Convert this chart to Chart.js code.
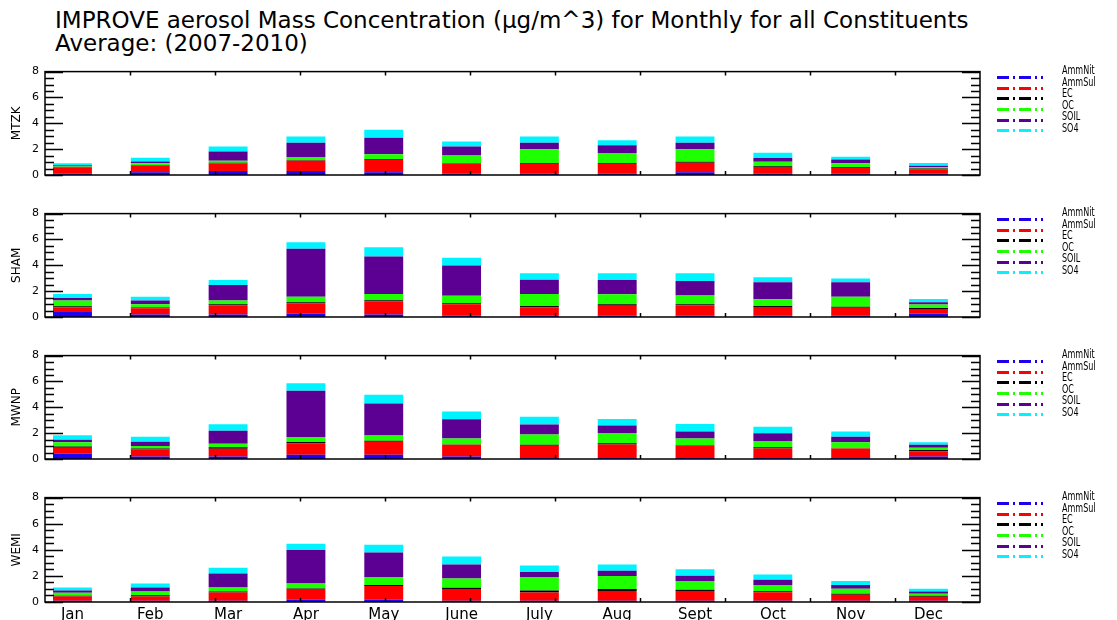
<!DOCTYPE html>
<html><head><meta charset="utf-8">
<script src="https://cdn.jsdelivr.net/npm/chart.js@4.4.1/dist/chart.umd.min.js"></script>
<style>
html,body{margin:0;padding:0;background:#fff;width:1117px;height:620px;overflow:hidden;}
#title{position:absolute;left:55px;top:9px;font-family:"DejaVu Sans";font-weight:normal;font-size:23px;line-height:23px;color:#000;white-space:pre;}
canvas{position:absolute;left:0;}
</style></head><body>
<div id="title">IMPROVE aerosol Mass Concentration (μg/m^3) for Monthly for all Constituents
Average: (2007-2010)</div>
<canvas id="p0" width="1117" height="142" style="top:59px"></canvas>
<canvas id="p1" width="1117" height="142" style="top:201px"></canvas>
<canvas id="p2" width="1117" height="142" style="top:343px"></canvas>
<canvas id="p3" width="1117" height="135" style="top:485px"></canvas>
<script>
// ---- data ----
const months = ["Jan","Feb","Mar","Apr","May","June","July","Aug","Sept","Oct","Nov","Dec"];
const constituents = ["AmmNit","AmmSul","EC","OC","SOIL","SO4"];
const sites = ["MTZK","SHAM","MWNP","WEMI"];

const MTZK_AmmNit = [0.12,0.22,0.30,0.30,0.22,0.10,0.10,0.10,0.22,0.10,0.10,0.10];
const MTZK_AmmSul = [0.43,0.50,0.60,0.80,0.95,0.80,0.75,0.75,0.72,0.52,0.45,0.32];
const MTZK_EC     = [0.03,0.03,0.04,0.04,0.05,0.02,0.05,0.05,0.08,0.05,0.05,0.08];
const MTZK_OC     = [0.07,0.15,0.16,0.26,0.38,0.58,1.10,0.80,0.98,0.35,0.30,0.10];
const MTZK_SOIL   = [0.10,0.15,0.72,1.10,1.28,0.70,0.50,0.60,0.50,0.30,0.30,0.12];
const MTZK_SO4    = [0.15,0.28,0.38,0.48,0.62,0.40,0.48,0.38,0.48,0.40,0.22,0.20];

const SHAM_AmmNit = [0.38,0.20,0.20,0.28,0.20,0.10,0.10,0.10,0.10,0.10,0.10,0.28];
const SHAM_AmmSul = [0.38,0.48,0.70,0.78,1.01,0.89,0.66,0.78,0.81,0.68,0.61,0.33];
const SHAM_EC     = [0.08,0.05,0.08,0.08,0.08,0.08,0.10,0.10,0.08,0.08,0.08,0.08];
const SHAM_OC     = [0.43,0.25,0.30,0.43,0.48,0.58,0.91,0.78,0.68,0.51,0.78,0.28];
const SHAM_SOIL   = [0.20,0.30,1.19,3.72,2.91,2.33,1.11,1.11,1.11,1.32,1.11,0.18];
const SHAM_SO4    = [0.30,0.28,0.40,0.50,0.71,0.61,0.51,0.51,0.61,0.38,0.30,0.25];

const MWNP_AmmNit = [0.40,0.20,0.20,0.33,0.33,0.20,0.08,0.08,0.08,0.08,0.08,0.20];
const MWNP_AmmSul = [0.48,0.53,0.60,0.88,1.00,0.90,0.95,1.05,0.93,0.73,0.73,0.40];
const MWNP_EC     = [0.08,0.08,0.10,0.10,0.08,0.03,0.08,0.08,0.03,0.10,0.03,0.10];
const MWNP_OC     = [0.33,0.20,0.28,0.40,0.40,0.45,0.78,0.80,0.55,0.48,0.45,0.18];
const MWNP_SOIL   = [0.20,0.33,1.00,3.58,2.48,1.50,0.78,0.58,0.53,0.60,0.43,0.22];
const MWNP_SO4    = [0.35,0.38,0.50,0.58,0.68,0.60,0.60,0.50,0.58,0.50,0.40,0.20];

const WEMI_AmmNit = [0.10,0.10,0.10,0.20,0.20,0.10,0.10,0.10,0.10,0.10,0.10,0.10];
const WEMI_AmmSul = [0.33,0.33,0.63,0.80,1.03,0.90,0.63,0.75,0.75,0.65,0.45,0.30];
const WEMI_EC     = [0.05,0.08,0.08,0.03,0.08,0.10,0.15,0.15,0.08,0.08,0.08,0.08];
const WEMI_OC     = [0.23,0.30,0.30,0.38,0.60,0.70,1.03,1.00,0.68,0.48,0.38,0.15];
const WEMI_SOIL   = [0.18,0.30,1.08,2.58,1.88,1.08,0.38,0.40,0.40,0.40,0.30,0.18];
const WEMI_SO4    = [0.22,0.30,0.43,0.48,0.60,0.60,0.50,0.48,0.50,0.40,0.30,0.20];

const siteSeries = [
  [MTZK_AmmNit, MTZK_AmmSul, MTZK_EC, MTZK_OC, MTZK_SOIL, MTZK_SO4],
  [SHAM_AmmNit, SHAM_AmmSul, SHAM_EC, SHAM_OC, SHAM_SOIL, SHAM_SO4],
  [MWNP_AmmNit, MWNP_AmmSul, MWNP_EC, MWNP_OC, MWNP_SOIL, MWNP_SO4],
  [WEMI_AmmNit, WEMI_AmmSul, WEMI_EC, WEMI_OC, WEMI_SOIL, WEMI_SO4]
];
const yTickValues = [0,2,4,6,8];

// ---- style ----
const colors = ["#1e00f0","#ff0000","#000000","#1eff00","#5c0094","#00f4ff"];
const Y_MIN = 0, Y_MAX = 8, Y_MAJOR = 2, Y_MINOR = 0.5;
const X_MIN = -0.353, X_MAX = 11.662, X_DIVISIONS = 11;

Chart.defaults.color = '#000';
Chart.defaults.font.family = '"DejaVu Sans", sans-serif';

const idlFrame = {
  id: 'idlFrame',
  afterDatasetsDraw(chart) {
    const {ctx, chartArea: a, scales: {x, y}} = chart;
    ctx.save();
    ctx.strokeStyle = '#000';
    ctx.lineWidth = 1.5;
    ctx.strokeRect(a.left, a.top, a.right - a.left, a.bottom - a.top);
    ctx.beginPath();
    for (let v = Y_MIN; v <= Y_MAX + 1e-9; v += Y_MINOR) {
      const py = Math.round(y.getPixelForValue(v)) + 0.5;
      const r = v / Y_MAJOR;
      const len = Math.abs(r - Math.round(r)) < 1e-6 ? 18 : 9;
      ctx.moveTo(a.left, py); ctx.lineTo(a.left + len, py);
      ctx.moveTo(a.right, py); ctx.lineTo(a.right - len, py);
    }
    for (let k = 1; k < X_DIVISIONS; k++) {
      const v = X_MIN + (X_MAX - X_MIN) * k / X_DIVISIONS;
      const px = Math.round(x.getPixelForValue(v)) + 0.5;
      ctx.moveTo(px, a.top); ctx.lineTo(px, a.top + 4);
      ctx.moveTo(px, a.bottom); ctx.lineTo(px, a.bottom - 4);
    }
    ctx.stroke();
    // legend
    chart.data.datasets.forEach((ds, k) => {
      const ly = Math.round(a.top + 5.5 + 10.6 * k) + 0.5;
      ctx.setLineDash([12, 4, 2, 4]);
      ctx.lineWidth = 3;
      ctx.strokeStyle = ds.backgroundColor;
      ctx.beginPath();
      ctx.moveTo(a.right + 17, ly);
      ctx.lineTo(a.right + 63, ly);
      ctx.stroke();
      ctx.setLineDash([]);
      ctx.save();
      ctx.translate(a.right + 82, a.top - 1 + 11.6 * k);
      ctx.scale(0.62, 1);
      ctx.fillStyle = '#000';
      ctx.font = '13px "DejaVu Sans"';
      ctx.textBaseline = 'middle';
      ctx.textAlign = 'left';
      ctx.fillText(ds.label, 0, 0);
      ctx.restore();
    });
    ctx.restore();
  }
};

function makePanel(idx) {
  const showX = idx === sites.length - 1;
  const canvas = document.getElementById('p' + idx);
  const H = canvas.height;
  return new Chart(canvas, {
    type: 'bar',
    data: {
      datasets: constituents.map((name, k) => ({
        label: name,
        data: siteSeries[idx][k].map((v, i) => ({x: i, y: v})),
        backgroundColor: colors[k],
        borderWidth: 0,
        categoryPercentage: 1,
        barPercentage: 0.5,
        stack: 's'
      }))
    },
    options: {
      animation: false,
      responsive: false,
      devicePixelRatio: 1,
      layout: {padding: {left: 0, right: 137, top: 10, bottom: showX ? 0 : (H - 10 - 106)}},
      scales: {
        x: {
          type: 'linear', min: X_MIN, max: X_MAX, stacked: true, display: showX, offset: false,
          grid: {display: false, drawTicks: false, offset: false}, border: {display: false},
          afterBuildTicks: s => { s.ticks = months.map((m, i) => ({value: i})); },
          ticks: {padding: 4, font: {size: 15}, maxRotation: 0, autoSkip: false,
                  callback: v => months[v]},
          afterFit: s => { if (showX) s.height = 18; }
        },
        y: {
          min: Y_MIN, max: Y_MAX, stacked: true,
          grid: {display: false, drawTicks: false}, border: {display: false},
          afterBuildTicks: s => { s.ticks = yTickValues.map(v => ({value: v})); },
          ticks: {padding: 6, font: {size: 11}},
          title: {display: true, text: sites[idx], font: {size: 12}, padding: {top: 10, bottom: 0}},
          afterFit: s => { s.width = 45; }
        }
      },
      plugins: {legend: {display: false}, tooltip: {enabled: false}}
    },
    plugins: [idlFrame]
  });
}
sites.forEach((s, i) => makePanel(i));
</script>
</body></html>
